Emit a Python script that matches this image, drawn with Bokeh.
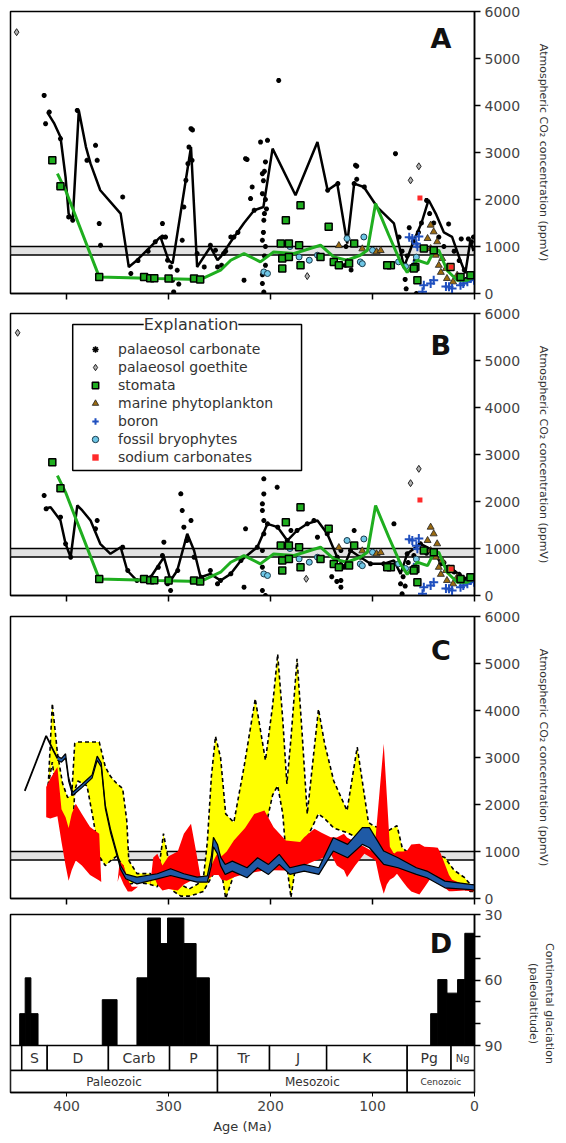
import numpy as np
from bokeh.plotting import figure
from bokeh.models import (Range1d, FixedTicker, Legend, LegendItem, Label,
                          BoxAnnotation, ColumnDataSource)
from bokeh.layouts import column
from bokeh.embed import file_html
from bokeh.resources import INLINE
from bokeh.core.properties import value

FONT = "DejaVu Sans"

# ------------------------------------------------------------------ data
age_ticks = [400, 300, 200, 100, 0]
co2_ticks = [0, 1000, 2000, 3000, 4000, 5000, 6000]
ref_band = [820, 1000]

# stomata LOESS (green line), panels A and B
stom_line_age = [409, 401, 368, 311, 269, 249, 239, 226, 210, 197, 177, 151, 138, 125,
                 112, 105, 97, 84, 72.5, 66, 56, 46, 40, 35, 27, 17, 7, 1]
stom_line_ppm = [2550, 2196, 353, 319, 297, 495, 708, 850, 672, 884, 850, 1027, 778, 708,
                 814, 920, 1913, 1239, 672, 450, 708, 637, 900, 920, 495, 283, 283, 353]

# palaeosol carbonate LOESS (black line), panel A
carbA_line_age = [419, 412, 406, 401, 398, 394, 388, 381, 376.5, 367, 347, 339, 331, 308,
                  300, 296, 278, 272, 259, 252, 249, 239, 226, 216, 207, 198, 175.5, 154,
                  144, 134.6, 124.8, 118, 108.5, 95.4, 79, 69, 60, 52, 45, 38, 30, 22, 14,
                  9, 4, 1]
carbA_line_ppm = [3860, 3613, 3330, 2478, 1700, 1558, 3896, 3116, 2763, 2196, 1700, 565, 708,
                  1203, 708, 640, 3116, 565, 990, 708, 778, 1100, 1500, 1770, 1840, 3082,
                  2089, 3222, 2196, 2338, 1063, 2338, 2267, 1840, 1490, 565, 1100, 1500,
                  1990, 1700, 1300, 1203, 708, 430, 1133, 900]

# palaeosol carbonate LOESS (black line), panel B
carbB_line_age = [422, 415.7, 406, 401, 396, 389.5, 384.6, 376.5, 367, 357, 347, 340.5, 331,
                  317.6, 304.6, 298, 291.5, 281.7, 275, 268.6, 259, 249, 239, 229, 213, 203,
                  193, 183.6, 174, 164, 154, 144.4, 134.6, 128, 121.6, 111.8, 102, 89, 79,
                  72.5, 66, 53, 40, 33, 25, 15, 8, 2]
carbB_line_ppm = [1844, 1879, 1596, 1100, 815, 1915, 1809, 1596, 1100, 887, 1028, 532, 319,
                  389, 815, 319, 532, 1312, 957, 389, 461, 319, 461, 745, 1028, 1525, 1454,
                  1170, 1383, 1525, 1596, 1312, 815, 603, 957, 815, 674, 674, 745, 461, 887,
                  1100, 957, 674, 600, 450, 350, 400]

# palaeosol carbonate estimates, panel A
carbA_age = [422, 417, 420.6, 406, 407.5, 398, 394, 389.5, 371.6, 370, 380, 345, 368, 366.7,
             337, 306, 306, 301, 298, 296, 295, 291.5, 286.6, 285, 283, 281, 280, 278, 276.5,
             277, 272, 265, 259, 254, 252, 246, 239, 224.5, 216, 218, 219.6, 209.8, 203, 208,
             208, 206.6, 208, 226, 208, 206.6, 192, 116.7, 77.5, 223, 25.4, 13, 6, 57,
             205, 206, 207, 205, 204, 206, 207, 205, 206, 205, 208, 144, 134, 126, 118,
             115.5, 115.5, 108, 124, 127, 121, 74, 71, 69, 68, 67, 66, 64, 60, 58, 55, 52,
             47, 44, 40, 35, 30, 20, 15, 10, 8, 3, 1, 330, 320, 313, 303, 290, 248, 244,
             236, 232]
carbA_ppm = [4215, 3860, 3613, 3294, 2266, 1628, 1558, 3896, 3152, 2833, 2833, 2053, 1488,
             1027, 425, 1488, 1203, 708, 565, 283, 34, 495, 1133, 1840, 2408, 2763, 3116, 3507,
             3480, 2833, 850, 565, 1027, 920, 565, 850, 1203, 2869, 1770, 2266, 2019, 3222,
             3258, 2550, 2125, 1558, 1133, 283, 212, 30, 4533, 2728, 2976, 2851, 1478, 1162,
             1162, 0, 2800, 2600, 2400, 2000, 1800, 1700, 1300, 1000, 800, 600, 400, 2196,
             2338, 1000, 2338, 2710, 2430, 2267, 700, 600, 500, 1200, 900, 600, 300, 100, 800,
             1400, 1100, 700, 1300, 1500, 1980, 1700, 1500, 1200, 1000, 900, 700, 500, 300,
             1100, 1200, 700, 900, 1100, 1200, 200, 600, 900, 1200, 1300]

# palaeosol carbonate estimates, panel B
carbB_age = [422, 420, 406, 370, 371.6, 396, 401, 345, 304.6, 306, 301, 298, 288, 286.6,
             278, 285, 282, 275, 272, 259, 252, 206.6, 193.5, 224.5, 206.6, 208, 208, 206.6,
             206.6, 208, 208, 226, 208, 205, 180, 157.5, 154, 131, 131, 131, 118, 79, 72.5,
             71, 59.5, 340, 331, 317, 310, 291, 268, 249, 239, 229, 213, 203, 193, 183.6,
             174, 164, 144.4, 134.6, 128, 121.6, 111.8, 102, 89, 66, 53, 40, 33, 25, 15, 8,
             3, 140, 135, 70, 68, 65, 47, 30, 20, 10]
carbB_ppm = [2127, 1844, 1667, 1596, 1420, 815, 1100, 1028, 1135, 850, 248, 106, 2163, 1809,
             1596, 1454, 1170, 815, 319, 532, 248, 2482, 2304, 1419, 2162, 1950, 1809, 1596,
             1312, 957, 603, 177, 106, 0, 1383, 1596, 1241, 957, 319, 177, 1383, 1525, 248,
             35, 851, 532, 319, 389, 600, 532, 389, 319, 461, 745, 1028, 1525, 1454, 1170,
             1383, 1525, 1312, 815, 603, 957, 815, 674, 674, 887, 1100, 957, 674, 600, 450,
             350, 400, 400, 300, 400, 200, 700, 900, 700, 500, 300]

goeA_age = [449, 54.6, 62.7, 164]
goeA_ppm = [5560, 2706, 2408, 370]
goeB_age = [448, 54.6, 62.7, 165]
goeB_ppm = [5590, 2695, 2390, 355]

stom_age = [414, 406, 368, 324, 318, 314, 300, 275, 269, 185, 170.6, 190, 182, 172, 143,
            188.5, 188.5, 170.6, 182, 151, 138, 133, 123, 118, 82, 58, 56, 49.7, 40, 85.6,
            59.5, 23.5, 13.7, 4]
stom_ppm = [2833, 2280, 353, 353, 325, 325, 319, 319, 297, 1558, 1877, 1063, 1063, 1027,
            1420, 743, 531, 601, 778, 778, 672, 601, 637, 1063, 601, 565, 283, 956, 920, 601,
            531, 565, 353, 389]

phyto_age = [43, 40, 46, 36.6, 43, 38, 31.7, 28, 27, 21, 17, 96, 92, 133, 110, 35, 33]
phyto_ppm = [1454, 1312, 1170, 1100, 957, 815, 745, 532, 319, 248, 389, 888, 915, 1020, 950,
             600, 450]

boron_age = [61, 54.6, 56, 59.5, 49.7, 43, 51, 28, 22, 13.7, 7, 0.5, 64, 57, 40, 25, 11, 4]
boron_ppm = [1170, 1213, 993, 603, 177, 213, 36, 149, 106, 177, 248, 283, 1197, 1056, 282,
             141, 211, 317]

bryo_age = [188.5, 181, 172, 162, 206.6, 203, 154, 112, 108.5, 100, 110, 57, 125, 74.5, 67.6]
bryo_ppm = [1063, 1000, 778, 708, 459, 425, 814, 672, 1203, 920, 634, 774, 1170, 674, 574]

sodium_age = [53.5, 23]
sodium_ppm = [2030, 565]

# panel C envelopes
yel_age = [418, 414, 409, 404, 399, 395, 392, 389, 380, 374, 368, 362, 357, 351, 345, 341,
           339, 331, 318, 311, 305, 300, 295, 288, 280, 272, 266, 262, 258, 254, 249, 244,
           236, 226, 215, 205, 198, 193, 188, 184, 180, 174, 169, 164, 153, 147, 138, 125,
           115, 104, 99, 92, 84, 76, 71, 62, 50, 40, 29, 20, 10, 4, 0]
yel_hi = [2400, 4150, 3100, 2450, 2150, 2200, 3300, 3330, 3330, 3330, 3330, 2800, 2600, 2450,
          2340, 1660, 810, 530, 530, 380, 1380, 800, 810, 300, 200, 300, 400, 1200, 2600,
          3450, 3000, 1800, 1620, 2800, 4250, 2940, 4100, 5200, 3800, 2440, 3400, 5100, 3500,
          1800, 4030, 3300, 2500, 1870, 3220, 1620, 1540, 1500, 1450, 1550, 1090, 900, 1000,
          950, 870, 600, 450, 300, 250]
yel_lo = [2400, 2900, 2000, 1400, 1000, 1000, 2300, 2500, 2400, 1700, 900, 700, 800, 900, 700,
          400, 300, 350, 300, 250, 600, 300, 150, 50, 50, 100, 150, 300, 450, 600, 700, 0, 500,
          800, 1100, 1500, 2200, 2400, 1800, 700, 20, 900, 1200, 1300, 1800, 1700, 1500,
          1400, 1300, 1300, 1200, 1200, 1000, 900, 700, 600, 600, 500, 400, 300, 200, 150, 150]

red_age = [420, 416, 409, 405, 401, 398, 395, 391, 385, 377, 368, 366, 350, 348, 344, 340,
           336, 330, 318, 315, 311, 306, 300, 291, 285, 278, 273, 268, 262, 256, 251, 248,
           243, 236, 225, 216, 206, 197, 185, 171, 167, 157, 150, 141, 135, 128, 125, 117,
           108, 100, 97, 93, 89, 86, 83, 79, 76, 70, 66, 62, 54, 49, 40, 36, 33, 25, 22, 10,
           4, 0]
red_hi = [2370, 2550, 2800, 1900, 1730, 1500, 1800, 2017, 1800, 1520, 1380, 350, 350, 800, 700,
          400, 250, 250, 300, 870, 950, 700, 900, 1000, 1380, 1590, 1000, 380, 500, 800, 1010,
          900, 1000, 1234, 1500, 1800, 1870, 1517, 1234, 1200, 1305, 1483, 1400, 1305, 1300,
          1378, 1300, 1200, 1100, 1000, 1300, 2300, 3290, 2200, 1100, 950, 1000, 1000, 1021,
          1150, 1163, 1100, 1092, 1080, 950, 500, 400, 300, 227, 220]
red_lo = [1730, 1700, 1750, 1200, 700, 380, 600, 809, 700, 500, 383, 350, 350, 500, 300, 150,
          150, 250, 300, 500, 300, 170, 200, 170, 300, 380, 380, 380, 400, 500, 500, 400, 380,
          450, 525, 560, 596, 600, 596, 667, 700, 800, 850, 950, 700, 600, 454, 700, 950, 850,
          809, 400, 100, 300, 400, 450, 525, 350, 241, 150, 85, 241, 525, 400, 300, 156, 156,
          170, 156, 150]

blue_age = [409, 405, 401, 398, 394, 385, 375, 370, 366, 362, 357, 352, 347, 342, 331, 311,
            298, 285, 272, 262, 258, 256, 252, 249, 244.5, 237.5, 223, 212.7, 202, 191.5, 181,
            167, 152.6, 138.5, 124.4, 110, 103, 89, 75, 57, 46.6, 29, 4, 0]
blue_hi = [3030, 2980, 3080, 2580, 2260, 2430, 2630, 3030, 2880, 1980, 1480, 1080, 700, 520,
           454, 526, 632, 526, 454, 480, 900, 1300, 1150, 880, 725, 796, 654, 867, 725, 938,
           654, 725, 654, 1293, 1151, 1507, 1507, 1009, 867, 654, 583, 370, 300, 290]
blue_lo = [2940, 2900, 2990, 2500, 2190, 2360, 2560, 2940, 2800, 1910, 1410, 1020, 620, 420,
           312, 419, 490, 419, 347, 350, 700, 1100, 950, 700, 512, 583, 441, 654, 512, 725,
           512, 583, 512, 1009, 867, 1151, 1080, 725, 654, 512, 441, 227, 190, 180]

early_line_age = [441, 430, 420, 413, 409]
early_line_ppm = [2290, 2900, 3460, 3150, 2980]

# panel D: continental glaciation (paleolatitude)
glac_old = [446, 440.6, 435, 365, 331, 320.5, 308, 301, 285, 273, 43, 36, 27, 16.6, 9.5]
glac_young = [440.6, 435, 428, 350.5, 320.5, 308, 301, 285, 273, 260, 36, 27, 16.6, 9.5, 0]
glac_lat = [75.4, 59, 75.4, 69, 59, 31.6, 43.3, 31.6, 43.3, 59, 75.4, 59.8, 66, 59.8, 38.6]
lat_ticks = [30, 60, 90]
lat_minor = [40, 50, 70, 80]

period_bounds = [455, 444, 419, 359, 299, 252, 201, 145, 66, 23, 0]
period_names = ["", "S", "D", "Carb", "P", "Tr", "J", "K", "Pg", "Ng"]
era_bounds = [455, 252, 66, 0]
era_names = ["Paleozoic", "Mesozoic", "Cenozoic"]

# ------------------------------------------------------------------ styles
GREEN = "#1fae1f"
BLUE = "#1f4fbf"


def co2_fig(height, top, bottom):
    p = figure(width=566, height=height, x_range=Range1d(455, 0), y_range=Range1d(0, 6000),
               output_backend="svg", toolbar_location=None, y_axis_location="right",
               min_border_left=10, min_border_right=92, min_border_top=top,
               min_border_bottom=bottom)
    p.grid.visible = False
    p.outline_line_color = "black"
    p.outline_line_width = 1.5
    p.background_fill_color = "white"
    p.border_fill_color = "white"
    xa = p.xaxis[0]
    xa.ticker = FixedTicker(ticks=age_ticks)
    xa.major_label_overrides = {t: "" for t in age_ticks}
    xa.major_label_text_font_size = "0px"
    xa.major_label_standoff = 0
    xa.major_tick_in = 0
    xa.major_tick_out = 6
    xa.minor_tick_in = 0
    xa.minor_tick_out = 0
    xa.axis_line_width = 1.5
    xa.major_tick_line_width = 1.5
    ya = p.yaxis[0]
    ya.ticker = FixedTicker(ticks=co2_ticks)
    ya.major_tick_in = 0
    ya.major_tick_out = 6
    ya.minor_tick_out = 0
    ya.minor_tick_in = 0
    ya.axis_line_width = 1.5
    ya.major_tick_line_width = 1.5
    ya.major_label_text_font = FONT
    ya.major_label_text_font_size = "14px"
    ya.major_label_standoff = 4
    ya.axis_label = "Atmospheric CO\u2082 concentration (ppmV)"
    ya.axis_label_text_font = FONT
    ya.axis_label_text_font_size = "11px"
    ya.axis_label_text_font_style = "normal"
    ya.axis_label_text_color = "#333333"
    ya.axis_label_standoff = 14
    band = BoxAnnotation(bottom=ref_band[0], top=ref_band[1], fill_color="#e2e2e2",
                         fill_alpha=1, line_color="black", line_alpha=1, line_width=1.5,
                         level="underlay")
    p.add_layout(band)
    return p


def letter(p, x, y, t):
    p.add_layout(Label(x=x, y=y, text=t, text_font=FONT, text_font_size="27px",
                       text_font_style="bold", text_align="center",
                       text_baseline="alphabetic", text_color="#111111"))


def proxies(p, carb_age, carb_ppm, goe_age, goe_ppm, line_age, line_ppm):
    r = {}
    r["carb"] = p.scatter(carb_age, carb_ppm, marker="asterisk", size=5, line_width=1.6,
                          line_color="black")
    r["goe"] = p.scatter(goe_age, goe_ppm, marker="diamond", size=7, fill_color="#b0b0b0",
                         line_color="#222222", line_width=1)
    p.line(line_age, line_ppm, line_color="black", line_width=2.5)
    r["bryo"] = p.scatter(bryo_age, bryo_ppm, marker="circle", size=6, fill_color="#6ec6e6",
                          line_color="#1a3a4a", line_width=1)
    r["phyto"] = p.scatter(phyto_age, phyto_ppm, marker="triangle", size=7,
                           fill_color="#9a6a10", line_color="#222222", line_width=0.8)
    r["boron"] = p.scatter(boron_age, boron_ppm, marker="cross", size=9, line_color=BLUE,
                           line_width=2)
    p.line(stom_line_age, stom_line_ppm, line_color=GREEN, line_width=3)
    r["stom"] = p.scatter(stom_age, stom_ppm, marker="square", size=7, fill_color=GREEN,
                          line_color="black", line_width=1.5)
    r["sod"] = p.scatter(sodium_age, sodium_ppm, marker="square", size=5, fill_color="#ff2a2a",
                         line_color=None)
    return r


# ---------------- panel A
pA = co2_fig(303, 11, 10)
proxies(pA, carbA_age, carbA_ppm, goeA_age, goeA_ppm, carbA_line_age, carbA_line_ppm)
letter(pA, 33, 5430, "A")

# ---------------- panel B
pB = co2_fig(302, 10, 10)
rb = proxies(pB, carbB_age, carbB_ppm, goeB_age, goeB_ppm, carbB_line_age, carbB_line_ppm)
letter(pB, 33, 5320, "B")
legend_labels = ["palaeosol carbonate", "palaeosol goethite", "stomata",
                 "marine phytoplankton", "boron", "fossil bryophytes", "sodium carbonates"]
legend_keys = ["carb", "goe", "stom", "phyto", "boron", "bryo", "sod"]
items = [LegendItem(label=l, renderers=[rb[k]]) for l, k in zip(legend_labels, legend_keys)]
# explanation frame (drawn beneath the transparent legend)
pB.add_layout(BoxAnnotation(left=394, right=169.6, top=5766, bottom=2660, fill_color="white",
                            fill_alpha=1, line_color="black", line_alpha=1, line_width=1.5))
leg = Legend(items=items, location=(76, 130), padding=14, spacing=2, label_height=16,
             glyph_height=16, glyph_width=18, label_standoff=14, label_width=150, margin=0,
             border_line_color=None, background_fill_alpha=0,
             label_text_font=FONT, label_text_font_size="14px", label_text_color="#333333")
pB.add_layout(leg)
pB.add_layout(Label(x=278, y=5766, text="Explanation", text_font=FONT, text_font_size="16px",
                    text_align="center", text_baseline="middle", text_color="#333333",
                    background_fill_color="white", background_fill_alpha=1))

# ---------------- panel C
pC = co2_fig(301, 11, 8)
pC.varea(x=yel_age, y1=yel_lo, y2=yel_hi, fill_color="#ffff00")
pC.line(yel_age, yel_hi, line_color="black", line_width=1.6, line_dash="4 3")
pC.line(yel_age, yel_lo, line_color="black", line_width=1.6, line_dash="4 3")
pC.varea(x=red_age, y1=red_lo, y2=red_hi, fill_color="#ff0000")
pC.varea(x=blue_age, y1=blue_lo, y2=blue_hi, fill_color="#1f5aa6")
pC.line(blue_age, blue_hi, line_color="black", line_width=1.2)
pC.line(blue_age, blue_lo, line_color="black", line_width=1.2)
pC.line(early_line_age, early_line_ppm, line_color="black", line_width=1.8)
letter(pC, 33, 5277, "C")

# ---------------- panel D
pD = figure(width=566, height=237, x_range=Range1d(455, 0), y_range=Range1d(111.5, 30),
            output_backend="svg", toolbar_location=None, y_axis_location="right",
            min_border_left=10, min_border_right=92, min_border_top=8, min_border_bottom=51)
pD.grid.visible = False
pD.outline_line_color = "black"
pD.outline_line_width = 1.5
pD.quad(left=glac_old, right=glac_young, top=glac_lat, bottom=90, fill_color="black",
        line_color="black")
pD.quad(left=period_bounds[:-1], right=period_bounds[1:], bottom=90, top=101.45,
        fill_color="white", line_color="black", line_width=1.5)
pD.quad(left=era_bounds[:-1], right=era_bounds[1:], bottom=101.45, top=111.5,
        fill_color="white", line_color="black", line_width=1.5)
pmid = [(a + b) / 2 for a, b in zip(period_bounds[:-1], period_bounds[1:])]
psize = ["14px"] * len(period_names)
psize[-1] = "10px"
src_p = ColumnDataSource(dict(x=pmid, y=[95.8] * len(pmid), t=period_names, s=psize))
pD.text(x="x", y="y", text="t", text_font_size="s", source=src_p, text_font=value(FONT),
        text_align="center", text_baseline="middle", text_color="#333333")
emid = [(a + b) / 2 for a, b in zip(era_bounds[:-1], era_bounds[1:])]
esize = ["12px", "12px", "9px"]
src_e = ColumnDataSource(dict(x=emid, y=[106.6] * len(emid), t=era_names, s=esize))
pD.text(x="x", y="y", text="t", text_font_size="s", source=src_e, text_font=value(FONT),
        text_align="center", text_baseline="middle", text_color="#333333")
letter(pD, 33, 43.3, "D")

xa = pD.xaxis[0]
xa.ticker = FixedTicker(ticks=age_ticks)
xa.major_tick_in = 0
xa.major_tick_out = 4
xa.minor_tick_in = 0
xa.minor_tick_out = 0
xa.axis_line_width = 1.5
xa.major_label_text_font = FONT
xa.major_label_text_font_size = "14px"
xa.major_label_standoff = 4
xa.axis_label = "Age (Ma)"
xa.axis_label_text_font = FONT
xa.axis_label_text_font_size = "13px"
xa.axis_label_text_font_style = "normal"
xa.axis_label_text_color = "#333333"
xa.axis_label_standoff = 5
ya = pD.yaxis[0]
ya.ticker = FixedTicker(ticks=lat_ticks, minor_ticks=lat_minor)
ya.bounds = (30, 90)
ya.major_tick_in = 0
ya.major_tick_out = 6
ya.minor_tick_in = 0
ya.minor_tick_out = 6
ya.axis_line_width = 1.5
ya.major_tick_line_width = 1.5
ya.minor_tick_line_width = 1.5
ya.major_label_text_font = FONT
ya.major_label_text_font_size = "14px"
ya.major_label_standoff = 4
ya.axis_label = "Continental glaciation\n(paleolatitude)"
ya.axis_label_text_font = FONT
ya.axis_label_text_font_size = "11px"
ya.axis_label_text_font_style = "normal"
ya.axis_label_text_color = "#333333"
ya.axis_label_standoff = 22

layout = column(pA, pB, pC, pD, spacing=0)
open("out.html", "w").write(file_html(layout, INLINE))
